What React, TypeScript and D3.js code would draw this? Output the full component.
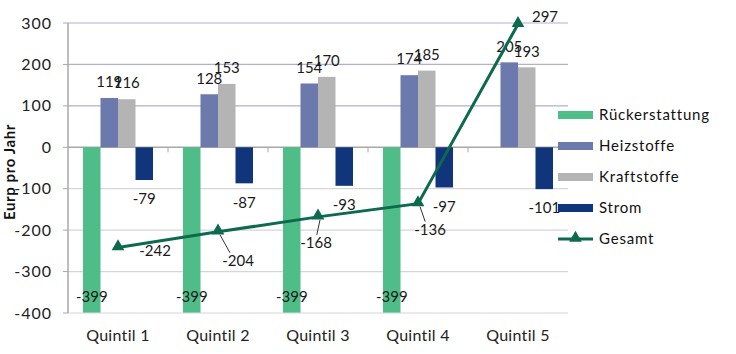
import * as d3 from "d3"

const quintile = ["Quintil 1", "Quintil 2", "Quintil 3", "Quintil 4", "Quintil 5"]
const rueckerstattung: (number | null)[] = [-399, -399, -399, -399, null]
const heizstoffe: (number | null)[] = [119, 128, 154, 174, 205]
const kraftstoffe: (number | null)[] = [116, 153, 170, 185, 193]
const strom: (number | null)[] = [-79, -87, -93, -97, -101]
const gesamt = [-242, -204, -168, -136, 297]
const yTicks = [300, 200, 100, 0, -100, -200, -300, -400]

const series = [
  { name: "Rückerstattung", values: rueckerstattung, color: "#4fbd88" },
  { name: "Heizstoffe", values: heizstoffe, color: "#6b79ad" },
  { name: "Kraftstoffe", values: kraftstoffe, color: "#b4b4b4" },
  { name: "Strom", values: strom, color: "#10357a" },
]
const lineColor = "#0d6a4e"

// label offsets for the Gesamt line (dx, dy from point), with leader line flag
const gesamtLabelPos = [
  { dx: 37, dy: 3, leader: false },
  { dx: 20, dy: 29, leader: true },
  { dx: -2, dy: 26, leader: true },
  { dx: 12, dy: 26, leader: true },
  { dx: 27, dy: -7, leader: false },
]

const font = "Lato, 'Open Sans', sans-serif"

export default function App() {
  const width = 736
  const height = 354
  const left = 68
  const right = 568
  const top = 23
  const bottom = 313

  const x = d3.scaleBand<string>().domain(quintile).range([left, right]).paddingInner(0.3).paddingOuter(0.15)
  const inner = d3
    .scaleBand<string>()
    .domain(series.map((s) => s.name))
    .range([0, x.bandwidth()])
  const y = d3.scaleLinear().domain([-400, 300]).range([bottom, top])

  const cx = (i: number) => (x(quintile[i]) ?? 0) + x.bandwidth() / 2
  const line = d3
    .line<number>()
    .x((_, i) => cx(i))
    .y((d) => y(d))

  const triangle = d3.symbol().type(d3.symbolTriangle).size(70)()

  return (
    <svg
      width={width}
      height={height}
      style={{ position: "absolute", left: 0, top: 0, background: "#fff", fontFamily: font }}
    >
      {/* gridlines */}
      {yTicks.map((t) => (
        <line
          key={t}
          x1={left}
          x2={right}
          y1={y(t)}
          y2={y(t)}
          stroke={t > 0 ? "#b0b0d0" : t === 0 ? "#a8a8a8" : "#d6d6d6"}
          strokeWidth={t === 0 ? 1.5 : 1.2}
        />
      ))}
      <line x1={left} x2={left} y1={top} y2={bottom} stroke="#a8a8a8" strokeWidth={1.5} />
      {yTicks.map((t) => (
        <g key={"tk" + t}>
          <line x1={left - 5} x2={left} y1={y(t)} y2={y(t)} stroke="#a8a8a8" />
          <text x={52} y={y(t)} dy="0.35em" textAnchor="end" fontSize={16} letterSpacing={1} fill="#222">
            {t}
          </text>
        </g>
      ))}
      {quintile.slice(1).map((q) => (
        <line key={"xt" + q} x1={(x(q) ?? 0) - 15} x2={(x(q) ?? 0) - 15} y1={y(0)} y2={y(0) + 5} stroke="#a8a8a8" />
      ))}
      <text
        transform={`translate(15,${172}) rotate(-90)`}
        textAnchor="middle"
        fontSize={15}
        fontWeight="bold"
        letterSpacing={0.6}
        fill="#111"
      >
        Eurp pro Jahr
      </text>

      {/* bars */}
      {series.map((s) =>
        s.values.map((v, i) =>
          v == null ? null : (
            <rect
              key={s.name + i}
              x={(x(quintile[i]) ?? 0) + (inner(s.name) ?? 0)}
              y={y(Math.max(0, v))}
              width={inner.bandwidth()}
              height={Math.abs(y(v) - y(0))}
              fill={s.color}
            />
          )
        )
      )}

      {/* bar labels */}
      {series.map((s) =>
        s.values.map((v, i) => {
          if (v == null) return null
          const bx = (x(quintile[i]) ?? 0) + (inner(s.name) ?? 0) + inner.bandwidth() / 2
          let ly: number
          if (s.name === "Rückerstattung") ly = y(v) - 16
          else if (v >= 0) ly = y(v) - 16
          else ly = y(v) + 19
          return (
            <text key={"l" + s.name + i} x={bx} y={ly} dy="0.35em" textAnchor="middle" fontSize={15} fill="#1a1a1a">
              {v}
            </text>
          )
        })
      )}

      {/* Gesamt line */}
      <path d={line(gesamt) ?? ""} fill="none" stroke={lineColor} strokeWidth={3} />
      {gesamt.map((v, i) => (
        <path key={"m" + i} d={triangle ?? ""} transform={`translate(${cx(i)},${y(v) - 1})`} fill={lineColor} />
      ))}
      {gesamt.map((v, i) => {
        const p = gesamtLabelPos[i]
        return (
          <g key={"gl" + i}>
            {p.leader && (
              <line
                x1={cx(i) + 2}
                y1={y(v) + 3}
                x2={cx(i) + p.dx * 0.6}
                y2={y(v) + p.dy - 8}
                stroke="#333"
                strokeWidth={1}
              />
            )}
            <text x={cx(i) + p.dx} y={y(v) + p.dy} dy="0.35em" textAnchor="middle" fontSize={15} fill="#1a1a1a">
              {v}
            </text>
          </g>
        )
      })}

      {/* x axis labels */}
      {quintile.map((q, i) => (
        <text key={q} x={cx(i)} y={335} dy="0.35em" textAnchor="middle" fontSize={16} letterSpacing={0.3} fill="#222">
          {q}
        </text>
      ))}

      {/* legend */}
      {series.map((s, i) => (
        <g key={"lg" + s.name} transform={`translate(558,${115 + i * 31})`}>
          <rect x={0} y={-4} width={35} height={8} fill={s.color} />
          <text x={41} y={0} dy="0.35em" fontSize={15} letterSpacing={0.8} fill="#111">
            {s.name}
          </text>
        </g>
      ))}
      <g transform={`translate(558,${115 + 4 * 31})`}>
        <line x1={0} x2={35} y1={0} y2={0} stroke={lineColor} strokeWidth={3} />
        <path d={triangle ?? ""} transform="translate(17.5,-1)" fill={lineColor} />
        <text x={41} y={0} dy="0.35em" fontSize={15} letterSpacing={0.8} fill="#111">
          Gesamt
        </text>
      </g>
    </svg>
  )
}
